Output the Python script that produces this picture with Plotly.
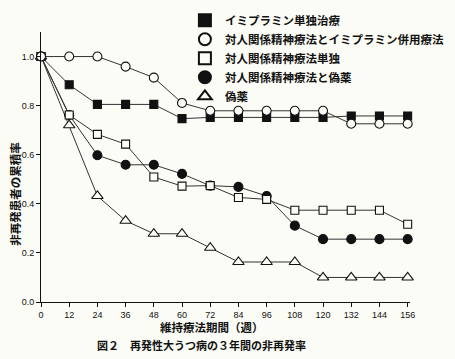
import plotly.graph_objects as go

weeks = [0, 12, 24, 36, 48, 60, 72, 84, 96, 108, 120, 132, 144, 156]
imipramine = [1.0, 0.885, 0.805, 0.805, 0.805, 0.747, 0.752, 0.752, 0.752, 0.752, 0.752, 0.758, 0.758, 0.758]
ipt_imi = [1.0, 1.0, 1.0, 0.959, 0.914, 0.811, 0.779, 0.779, 0.779, 0.779, 0.779, 0.726, 0.726, 0.726]
ipt_alone = [1.0, 0.762, 0.683, 0.643, 0.509, 0.472, 0.474, 0.426, 0.418, 0.374, 0.374, 0.374, 0.374, 0.317]
ipt_placebo = [1.0, 0.762, 0.598, 0.559, 0.559, 0.522, 0.474, 0.469, 0.432, 0.311, 0.256, 0.256, 0.256, 0.256]
placebo = [1.0, 0.72, 0.432, 0.331, 0.278, 0.278, 0.221, 0.163, 0.163, 0.163, 0.1, 0.1, 0.1, 0.1]

names = ["イミプラミン単独治療", "対人関係精神療法とイミプラミン併用療法",
         "対人関係精神療法単独", "対人関係精神療法と偽薬", "偽薬"]
x_ticks = [0, 12, 24, 36, 48, 60, 72, 84, 96, 108, 120, 132, 144, 156]
y_ticks = [0.0, 0.2, 0.4, 0.6, 0.8, 1.0]
y_tick_labels = ["0.0", "0.2", "0.4", "0.6", "0.8", "1.0"]

BG = "#fcfcf6"
INK = "#111111"


def marker(i):
    specs = [
        ("square", 8, INK),
        ("circle", 9, BG),
        ("square", 8, BG),
        ("circle", 9, INK),
        ("triangle-up", 10, BG),
    ]
    sym, size, fill = specs[i]
    return dict(symbol=sym, size=size, color=fill, line=dict(color=INK, width=1.1))


series = [imipramine, ipt_imi, ipt_alone, ipt_placebo, placebo]

fig = go.Figure()
draw_order = [4, 3, 2, 0, 1]
for i in draw_order:
    fig.add_trace(go.Scatter(
        x=weeks, y=series[i], mode="lines+markers",
        line=dict(color="#333333", width=1),
        marker=marker(i), showlegend=False, cliponaxis=False))

for i in range(5):
    fig.add_trace(go.Scatter(
        x=[None], y=[None], mode="markers", marker=marker(i), name=names[i],
        showlegend=True, legendrank=i + 1))

cjk = "Noto Sans CJK JP"
fig.update_layout(
    width=455, height=359,
    paper_bgcolor=BG, plot_bgcolor=BG,
    margin=dict(l=41, r=6, t=23, b=57),
    showlegend=True,
    legend=dict(x=0.39, y=1.097, xanchor="left", yanchor="top",
                bgcolor="rgba(0,0,0,0)",
                font=dict(family=cjk, size=11.5, color=INK, weight="bold"),
                itemsizing="constant", itemwidth=30, traceorder="normal",
                tracegroupgap=0),
    xaxis=dict(range=[0, 157], tickmode="array", tickvals=x_ticks,
               ticktext=[str(v) for v in x_ticks], ticklabeloverflow="allow",
               showgrid=False, zeroline=False, showline=True, linecolor=INK, linewidth=1,
               ticks="outside", ticklen=4, tickcolor=INK,
               tickfont=dict(family="Liberation Sans", size=9, color=INK)),
    yaxis=dict(range=[0, 1.1], tickmode="array", tickvals=y_ticks, ticktext=y_tick_labels,
               showgrid=False, zeroline=False, showline=True, linecolor=INK, linewidth=1,
               ticks="outside", ticklen=4, tickcolor=INK,
               tickfont=dict(family="Liberation Sans", size=9, color=INK)),
    annotations=[
        dict(text="非再発患者の累積率", xref="paper", yref="paper",
             x=-0.071, y=0.40, xanchor="center", yanchor="middle",
             textangle=-90, showarrow=False,
             font=dict(family=cjk, size=11.5, color=INK, weight="bold")),
        dict(text="維持療法期間（週）", xref="paper", yref="paper",
             x=0.463, y=-0.094, xanchor="center", yanchor="middle", showarrow=False,
             font=dict(family=cjk, size=11.5, color=INK, weight="bold")),
        dict(text="図２　再発性大うつ病の３年間の非再発率", xref="paper", yref="paper",
             x=0.436, y=-0.161, xanchor="center", yanchor="middle", showarrow=False,
             font=dict(family=cjk, size=11, color=INK, weight="bold")),
    ],
)

fig.write_html(
    "out.html",
    config={"displayModeBar": False},
    post_script="document.body.style.margin='0';document.body.style.background='" + BG + "';",
)
